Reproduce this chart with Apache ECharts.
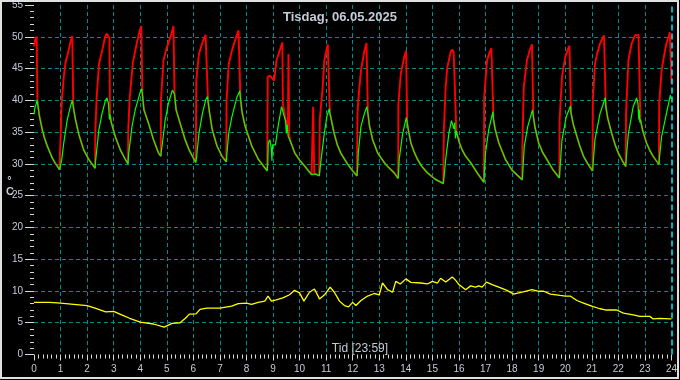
<!DOCTYPE html>
<html><head><meta charset="utf-8">
<script src="https://cdn.jsdelivr.net/npm/echarts@6/dist/echarts.min.js"></script>
<style>html,body{margin:0;padding:0;background:#000}#c{width:680px;height:380px}</style>
</head><body><div id="c"></div>
<script>
const titleText = 'Tisdag, 06.05.2025';
const xAxisName = 'Tid [23:59]';
const yAxisNameParts = ['°', 'C'];
const xTickLabels = ['0','1','2','3','4','5','6','7','8','9','10','11','12','13','14','15','16','17','18','19','20','21','22','23','24'];

// Red (collector) heating phases [hour, °C]
const redHeating = [
  [[0,48.5],[0.05,49.6],[0.1,50.0],[0.12,50.0]],
  [[1.03,38.0],[1.05,40.0],[1.12,43.7],[1.19,46.0],[1.31,48.0],[1.38,49.3],[1.44,50.1],[1.46,50.1]],
  [[2.31,35.3],[2.36,40.5],[2.45,45.8],[2.57,47.9],[2.68,50.0],[2.74,50.5],[2.8,50.2],[2.84,49.8]],
  [[3.55,35.5],[3.6,40.2],[3.72,45.9],[3.87,49.0],[3.98,51.0],[4.04,51.7],[4.05,51.7]],
  [[4.78,40.0],[4.875,46.3],[5.0,48.3],[5.125,49.8],[5.22,51.2],[5.25,51.7],[5.26,51.7]],
  [[6.11,43.1],[6.21,47.3],[6.34,49.1],[6.46,50.3],[6.52,50.3]],
  [[7.25,40.0],[7.33,45.7],[7.45,47.8],[7.58,49.6],[7.7,51.0],[7.75,51.0]],
  [[8.8,43.7],[8.88,43.9],[9.04,43.1],[9.13,46.3],[9.25,47.8],[9.35,49.1],[9.37,39.5],[9.47,37.0],[9.56,36.0],[9.58,47.3],[9.61,34.5]],
  [[10.5,28.4],[10.51,39.0],[10.54,39.0],[10.55,28.5],[10.74,28.2],[10.76,37.0],[10.87,42.1],[10.93,46.2],[10.99,47.5],[11.06,48.8],[11.08,48.8]],
  [[12.18,38.0],[12.21,40.0],[12.31,44.7],[12.44,47.8],[12.52,49.0],[12.55,49.0]],
  [[13.72,39.5],[13.81,44.2],[13.94,46.8],[14.01,47.8],[14.03,47.8]],
  [[15.43,35.3],[15.5,42.1],[15.56,45.2],[15.69,47.6],[15.75,48.0],[15.8,47.6],[15.87,47.6]],
  [[16.95,40.5],[17.06,46.3],[17.15,47.5],[17.22,48.2],[17.26,48.2]],
  [[18.39,33.5],[18.44,42.1],[18.56,46.3],[18.66,47.8],[18.75,48.8],[18.78,48.8]],
  [[19.79,36.9],[19.88,43.7],[20.0,46.8],[20.1,48.0],[20.16,48.6],[20.2,48.6]],
  [[21.04,40.0],[21.12,45.7],[21.2,47.3],[21.31,48.9],[21.46,50.2],[21.48,50.2]],
  [[22.29,37.9],[22.38,46.3],[22.5,48.9],[22.62,50.2],[22.69,50.5],[22.76,50.3],[22.8,50.0]],
  [[23.54,39.5],[23.63,44.7],[23.72,47.0],[23.81,48.9],[23.94,50.7],[23.98,50.7],[24.0,42.6]]
];

// Green (tank) heating phases [hour, °C]
const greenHeating = [
  [[0,37.8],[0.04,39.0],[0.08,39.4],[0.12,40.0]],
  [[1.04,30.5],[1.12,33.3],[1.25,36.9],[1.37,39.0],[1.44,40.0],[1.475,40.1]],
  [[2.32,30.5],[2.44,35.3],[2.56,37.9],[2.69,40.0],[2.75,40.4],[2.8,39.5],[2.84,37.0]],
  [[3.56,31.5],[3.69,35.9],[3.81,38.5],[4.0,41.3],[4.06,41.8]],
  [[4.81,31.5],[4.94,36.9],[5.06,39.5],[5.21,41.6],[5.275,41.9]],
  [[6.12,31.0],[6.21,34.8],[6.34,37.9],[6.46,40.0],[6.53,40.6]],
  [[7.26,31.5],[7.33,34.8],[7.45,37.4],[7.64,40.5],[7.75,41.5]],
  [[8.8,30.0],[8.82,33.3],[8.88,33.8],[8.93,32.5],[8.96,30.5],[8.98,33.0],[9.04,32.8],[9.09,33.0],[9.19,35.9],[9.32,39.0],[9.38,39.1]],
  [[10.6,28.4],[10.74,28.1],[10.81,30.7],[10.93,34.8],[11.03,37.5],[11.12,38.7]],
  [[12.19,29.5],[12.21,31.7],[12.31,35.9],[12.44,37.9],[12.53,39.0]],
  [[13.73,29.0],[13.75,30.7],[13.88,34.8],[14.02,37.3]],
  [[15.44,28.0],[15.5,30.7],[15.62,34.8],[15.72,36.8],[15.76,37.0],[15.81,35.5],[15.84,36.5],[15.87,34.0]],
  [[16.96,29.0],[17.0,31.7],[17.12,35.4],[17.28,38.2]],
  [[18.4,28.5],[18.46,32.8],[18.59,35.9],[18.77,38.5]],
  [[19.8,29.0],[19.88,33.8],[20.04,37.4],[20.2,39.1]],
  [[21.05,30.0],[21.12,33.8],[21.31,37.9],[21.51,40.4]],
  [[22.3,31.0],[22.38,34.8],[22.56,39.0],[22.69,40.4],[22.74,39.5],[22.77,37.0],[22.79,38.5],[22.81,36.5]],
  [[23.55,31.0],[23.63,34.3],[23.81,37.9],[23.96,40.8],[24.0,40.2]]
];

// Shared cooling phases (both curves follow these) [hour, °C]
const cooling = [
  [[0.13,40.0],[0.2,37.6],[0.31,35.4],[0.4,34.0],[0.5,32.8],[0.6,31.8],[0.69,30.9],[0.8,30.1],[0.9,29.5],[0.96,29.1],[1.02,28.8]],
  [[1.48,39.0],[1.55,37.2],[1.69,34.6],[1.87,32.2],[2.06,30.7],[2.2,29.9],[2.3,29.3]],
  [[2.86,37.8],[2.91,36.5],[3.06,34.3],[3.25,32.2],[3.44,30.7],[3.54,30.0]],
  [[4.08,41.0],[4.14,38.5],[4.31,36.4],[4.5,33.8],[4.69,31.7],[4.775,31.2]],
  [[5.29,41.0],[5.35,38.5],[5.5,36.4],[5.69,33.8],[5.84,32.2],[5.94,31.4],[6.09,30.2]],
  [[6.55,40.0],[6.6,38.3],[6.71,35.4],[6.89,32.8],[7.08,31.2],[7.24,30.3]],
  [[7.77,40.5],[7.83,38.2],[7.95,35.9],[8.2,32.8],[8.45,30.7],[8.65,29.6],[8.78,28.9]],
  [[9.42,37.5],[9.47,36.8],[9.5,34.8],[9.53,36.2],[9.57,34.3],[9.65,33.6],[9.82,31.7],[10.0,30.6],[10.2,29.6],[10.45,28.3]],
  [[11.14,38.0],[11.2,36.8],[11.3,34.8],[11.42,33.0],[11.55,31.7],[11.8,30.0],[12.0,28.9],[12.16,28.1]],
  [[12.57,38.0],[12.63,36.0],[12.75,33.8],[12.94,31.7],[13.19,30.2],[13.31,29.6],[13.56,28.6],[13.71,27.7]],
  [[14.05,36.5],[14.1,35.2],[14.19,33.3],[14.3,32.0],[14.44,30.7],[14.6,29.6],[14.81,28.6],[15.1,27.6],[15.41,26.9]],
  [[15.9,35.2],[16.0,33.5],[16.12,32.2],[16.25,31.2],[16.44,30.2],[16.7,28.5],[16.94,27.1]],
  [[17.3,37.0],[17.36,35.5],[17.5,33.3],[17.75,30.7],[18.0,29.0],[18.2,28.2],[18.38,27.5]],
  [[18.8,37.5],[18.86,35.8],[19.0,33.3],[19.15,31.8],[19.31,30.7],[19.55,29.0],[19.78,27.8]],
  [[20.22,38.0],[20.3,36.3],[20.44,34.3],[20.55,32.8],[20.69,31.2],[20.85,30.0],[21.03,28.9]],
  [[21.53,39.0],[21.6,37.2],[21.75,34.8],[21.88,33.0],[22.0,31.7],[22.15,30.5],[22.28,29.6]],
  [[22.83,37.0],[22.92,35.2],[23.06,33.3],[23.2,32.0],[23.31,31.2],[23.53,29.9]]
];

// Yellow (outdoor) [hour, °C]
const outdoor = [
  [0,8.2],[0.6,8.2],[1.0,8.1],[1.5,7.9],[2.0,7.7],[2.3,7.3],[2.7,6.7],[3.0,6.8],[3.3,6.25],[3.6,5.7],[4.0,5.1],[4.5,4.8],[4.9,4.3],[5.0,4.5],[5.2,4.9],[5.5,5.0],[5.7,5.7],[5.85,6.35],[6.1,6.4],[6.25,7.1],[6.5,7.3],[7.0,7.3],[7.44,7.6],[7.69,8.0],[8.0,8.1],[8.19,7.9],[8.44,8.2],[8.69,8.4],[8.81,9.2],[8.94,8.4],[9.12,8.6],[9.37,8.9],[9.62,9.4],[9.81,10.1],[10.0,9.7],[10.16,8.4],[10.37,9.8],[10.56,10.3],[10.75,8.75],[10.94,9.4],[11.15,10.6],[11.31,9.8],[11.5,8.4],[11.69,7.7],[11.84,7.5],[12.0,8.2],[12.12,7.7],[12.31,8.5],[12.56,9.2],[12.81,9.6],[13.0,9.4],[13.12,11.25],[13.31,10.2],[13.5,9.8],[13.62,11.5],[13.79,11.1],[14.0,11.9],[14.19,11.35],[14.56,11.25],[14.81,11.1],[15.0,11.5],[15.19,11.25],[15.31,12.0],[15.5,11.4],[15.75,12.2],[15.87,11.7],[16.0,11.0],[16.25,10.2],[16.44,10.8],[16.62,10.6],[16.75,10.8],[16.87,10.6],[17.04,11.4],[17.25,11.0],[17.5,10.6],[17.81,10.1],[18.06,9.5],[18.25,9.7],[18.5,9.95],[18.75,10.2],[19.0,9.95],[19.19,9.95],[19.44,9.5],[19.81,9.3],[20.0,9.2],[20.19,9.2],[20.44,8.5],[20.69,8.1],[21.0,7.6],[21.31,7.2],[21.56,7.0],[21.94,7.0],[22.19,6.5],[22.56,6.25],[22.81,6.0],[23.0,6.0],[23.19,6.0],[23.31,5.6],[23.56,5.7],[23.94,5.6],[24.0,5.6]
];

const nowMarker = 24;

function build(heating) {
  const out = [];
  for (let i = 0; i < heating.length; i++) {
    heating[i].forEach(p => out.push(p));
    if (i < cooling.length) {
      cooling[i].forEach(p => { if (p[0] > out[out.length - 1][0]) out.push(p); });
    }
  }
  return out;
}

const labelColor = '#c4cad6';
const gridColor = '#008c8c';
const tickColor = '#d8d8d8';
const font = 'Liberation Sans, Arial, sans-serif';

const ySplitColors = ['rgba(0,0,0,0)'];
for (let i = 0; i < 10; i++) ySplitColors.push(gridColor);
ySplitColors.push('rgba(0,0,0,0)');
const xSplitColors = ['rgba(0,0,0,0)'];
for (let i = 0; i < 23; i++) xSplitColors.push(gridColor);
xSplitColors.push('rgba(0,0,0,0)');

const chart = echarts.init(document.getElementById('c'), null, {renderer: 'canvas'});
chart.setOption({
  animation: false,
  backgroundColor: '#000000',
  grid: {left: 34, right: 6, top: 4.5, bottom: 25.5},
  xAxis: {
    type: 'value', min: 0, max: 24, interval: 1,
    axisLine: {show: false},
    axisTick: {show: true, length: 6, lineStyle: {color: tickColor}},
    minorTick: {show: true, splitNumber: 6, length: 4, lineStyle: {color: tickColor}},
    axisLabel: {color: labelColor, fontSize: 10, fontFamily: font, margin: 10,
      formatter: v => xTickLabels[Math.round(v)] || ''},
    splitLine: {show: true, lineStyle: {color: xSplitColors, type: [4, 3], width: 1}},
    minorSplitLine: {show: false}
  },
  yAxis: {
    type: 'value', min: 0, max: 55, interval: 5,
    axisLine: {show: false},
    axisTick: {show: true, length: 9, lineStyle: {color: tickColor}},
    minorTick: {show: true, splitNumber: 5, length: 4, lineStyle: {color: tickColor}},
    axisLabel: {color: labelColor, fontSize: 10, fontFamily: font, margin: 11},
    splitLine: {show: true, lineStyle: {color: ySplitColors, type: [4, 3], width: 1}}
  },
  series: [
    {type: 'line', data: outdoor, showSymbol: false, symbol: 'none',
      lineStyle: {color: '#ffff00', width: 1.3}, z: 2},
    {type: 'line', data: build(redHeating), showSymbol: false, symbol: 'none',
      lineStyle: {color: '#ff0000', width: 1.9}, z: 3,
      markLine: {silent: true, symbol: ['none', 'none'], label: {show: false},
        lineStyle: {color: '#00e8ff', type: [6, 3], width: 1.5},
        data: [{xAxis: nowMarker}]}},
    {type: 'line', data: build(greenHeating), showSymbol: false, symbol: 'none',
      lineStyle: {color: '#00ff00', width: 1.2}, z: 4}
  ],
  graphic: [
    {type: 'text', left: 'center', top: 11, z: 10,
      style: {text: titleText, fill: labelColor, font: 'bold 13px ' + font}},
    {type: 'text', x: 360, y: 349, z: 10,
      style: {text: xAxisName, fill: labelColor, font: '12px ' + font, align: 'center', verticalAlign: 'middle'}},
    {type: 'text', x: 9.5, y: 181, z: 10,
      style: {text: yAxisNameParts[0], fill: labelColor, font: 'bold 11px ' + font, align: 'center', verticalAlign: 'middle'}},
    {type: 'text', x: 10, y: 192, z: 10,
      style: {text: yAxisNameParts[1], fill: labelColor, font: 'bold 11px ' + font, align: 'center', verticalAlign: 'middle'}},
    {type: 'rect', z: 20, shape: {x: 1, y: 1, width: 677, height: 377},
      style: {fill: null, stroke: '#e0e0e0', lineWidth: 2}}
  ]
});
</script>
</body></html>
